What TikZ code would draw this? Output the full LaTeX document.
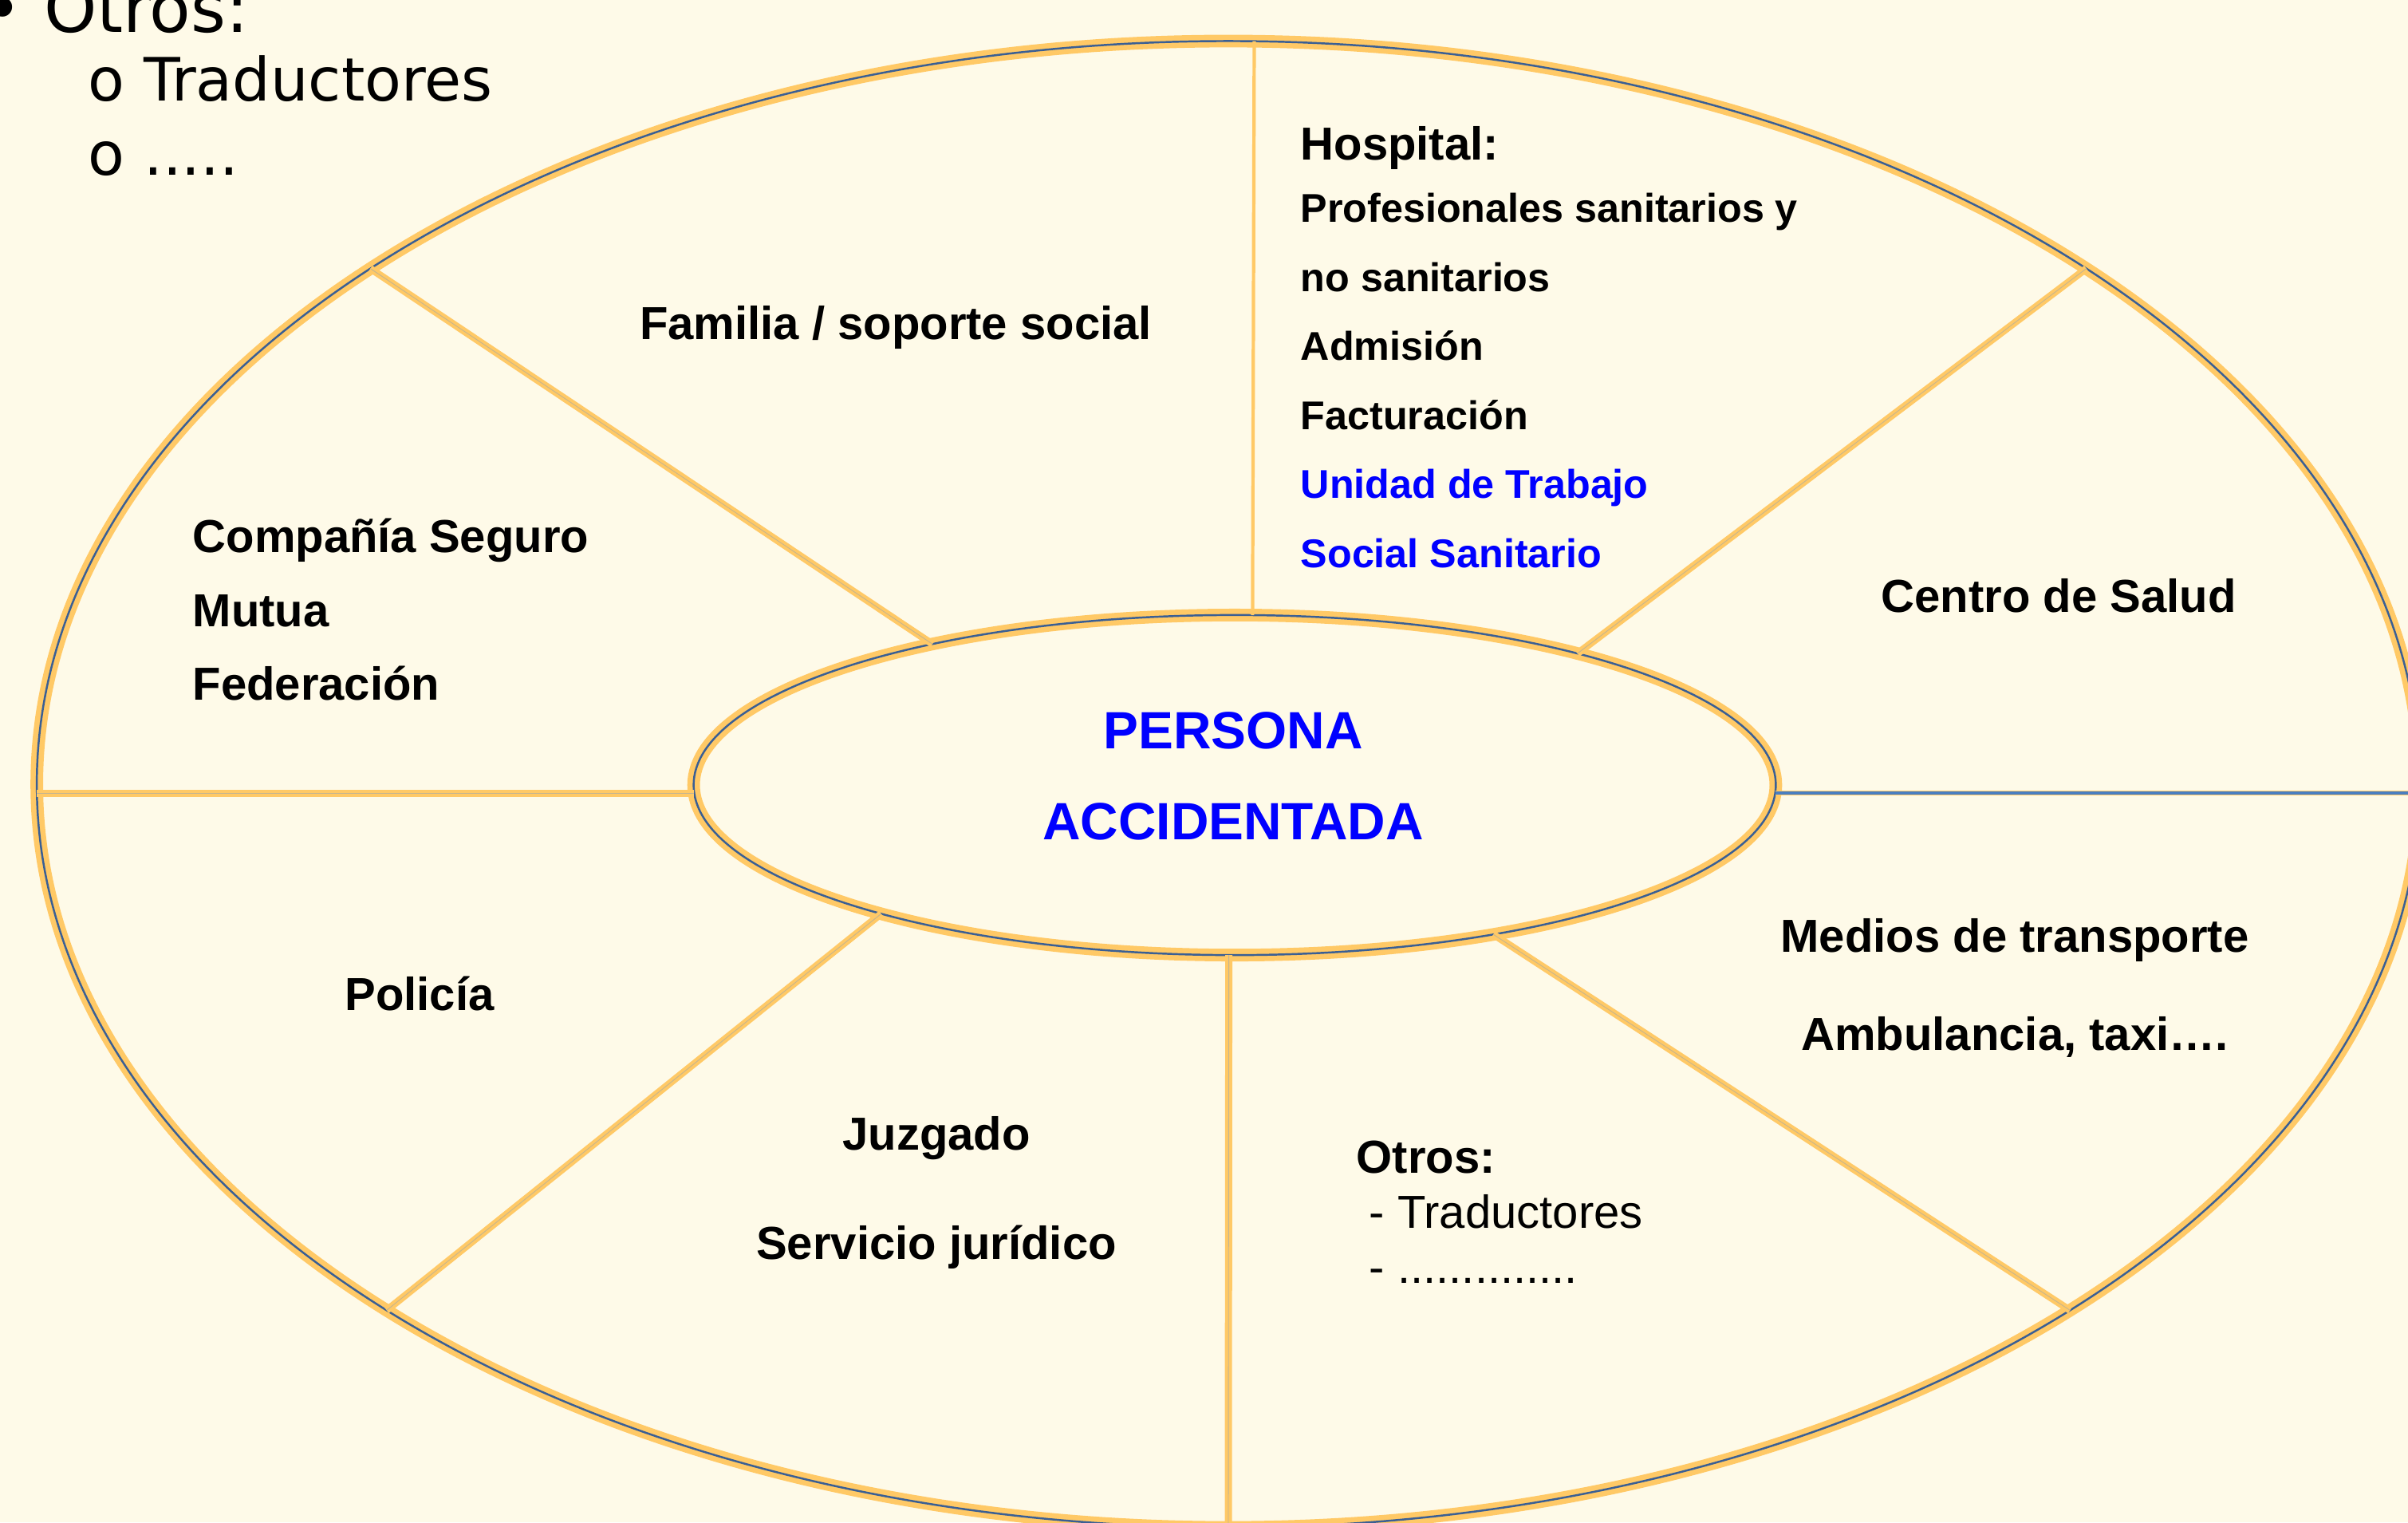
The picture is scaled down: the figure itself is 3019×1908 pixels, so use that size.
\documentclass[tikz,border=0pt]{standalone}
\usepackage{fontspec}
\setmainfont{Liberation Sans}
\newfontfamily\notefont{DejaVu Sans}
\usetikzlibrary{shapes.geometric}

\definecolor{bgcream}{HTML}{FEFAE8}
\definecolor{ringyellow}{HTML}{FFC966}
\definecolor{ringblue}{HTML}{3A5F94}
\definecolor{spokeblue}{HTML}{4A7EC0}
\definecolor{spokegrey}{HTML}{C4B590}
\definecolor{textblue}{HTML}{0000FF}

\tikzset{
  ring/.style={ellipse, draw=ringyellow, line width=1.9pt, double=ringblue, double distance=0.7pt, inner sep=0pt, outer sep=0pt},
  spoke/.style={draw=ringyellow, line width=1.15pt, double=spokegrey, double distance=0.25pt},
  thinspoke/.style={draw=ringyellow, line width=1.2pt},
  bluespoke/.style={draw=ringyellow, line width=0.35pt, double=spokeblue, double distance=1.2pt},
  lbl/.style={inner sep=0pt, font=\fontsize{16.5pt}{#1}\selectfont\bfseries},
  lbl/.default=20pt,
  plainlbl/.style={inner sep=0pt, font=\fontsize{16.5pt}{#1}\selectfont},
  plainlbl/.default=20pt,
  note/.style={inner sep=0pt, anchor=base west, font=\notefont\fontsize{#1}{25pt}\selectfont},
  note/.default=21.3pt
}

\begin{document}
\begin{tikzpicture}[x=0.01cm, y=-0.01cm]
\useasboundingbox (0,0) rectangle (3019,1908);
\fill[bgcream] (0,0) rectangle (3019,1908);
\clip (0,0) rectangle (3019,1908);

% rings
\node[ring, minimum width=29.86cm, minimum height=18.62cm] (outer) at (1540,983) {};
\node[ring, minimum width=13.56cm, minimum height=4.26cm] (persona) at (1548,984) {};
\node[inner sep=0pt, text=textblue, align=center, font=\fontsize{18.7pt}{32.3pt}\selectfont\bfseries]
  (personatext) at (1546,973) {PERSONA\\ACCIDENTADA};

% spokes
\draw[thinspoke] (outer.88.2) -- (persona.84.4);
\draw[spoke] (outer.149.5) -- (persona.155);
\draw[spoke] ([yshift=-0.1cm]persona.west) -- ([yshift=-0.1cm]persona.west -| outer.west);
\draw[spoke] (outer.212.2) -- (persona.200.7);
\draw[spoke] (outer.270.1) -- (persona.268.4);
\draw[spoke] (outer.328.6) -- (persona.330.1);
\draw[spoke] (outer.31.4) -- (persona.21.4);
\draw[bluespoke] ([yshift=-0.1cm]persona.east) -- ([yshift=-0.1cm]persona.east -| outer.east);

% sectors
\node[lbl] (familia) at (1123,410) {Familia / soporte social};
\node[lbl, anchor=base west] (hospital) at (1630,200) {Hospital:};
\node[inner sep=0pt, anchor=west, align=left, font=\fontsize{14.3pt}{24.6pt}\selectfont\bfseries] (hosplist) at (1630,477)
  {Profesionales sanitarios y\\no sanitarios\\Admisión\\Facturación\\\textcolor{textblue}{Unidad de Trabajo}\\\textcolor{textblue}{Social Sanitario}};
\node[lbl] (centro) at (2581,747) {Centro de Salud};
\node[lbl=26.2pt, anchor=west, align=left] (seguro) at (241,764) {Compañía Seguro\\Mutua\\Federación};
\node[lbl=35pt, align=center] (medios) at (2526,1238) {Medios de transporte\\Ambulancia, taxi….};
\node[lbl] (policia) at (526,1245) {Policía};
\node[lbl=39pt, align=center] (juzgado) at (1174,1495) {Juzgado\\Servicio jurídico};
\node[plainlbl=19.7pt, anchor=west, align=left] (otros) at (1700,1519)
  {\textbf{Otros:}\\\ - Traductores\\\ - ..............};

% note top left
\node[note=24pt] (otrostop) at (-22,40) {• Otros:};
\node[note] (tradtop) at (110,126) {o Traductores};
\node[note] (dotstop) at (110,219) {o .....};
\end{tikzpicture}
\end{document}
